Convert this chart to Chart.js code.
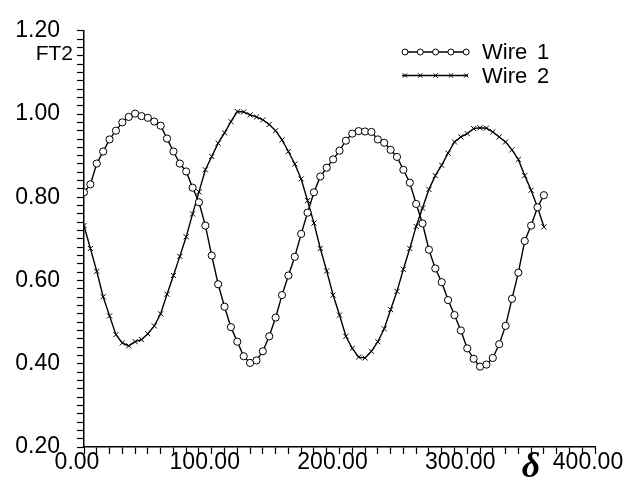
<!DOCTYPE html>
<html><head><meta charset="utf-8">
<script src="https://cdn.jsdelivr.net/npm/chart.js@4.4.1/dist/chart.umd.min.js"></script>
<style>html,body{margin:0;padding:0;background:#fff}#wrap{width:639px;height:485px}</style>
</head><body><div id="wrap"><canvas id="c"></canvas></div>
<script>
const angles = [0,5,10,15,20,25,30,35,40,45,50,55,60,65,70,75,80,85,90,95,100,105,110,115,120,125,130,135,140,145,150,155,160,165,170,175,180,185,190,195,200,205,210,215,220,225,230,235,240,245,250,255,260,265,270,275,280,285,290,295,300,305,310,315,320,325,330,335,340,345,350,355,360];
const wire1 = [0.812,0.831,0.881,0.910,0.939,0.960,0.980,0.993,1.001,0.995,0.991,0.982,0.972,0.941,0.910,0.881,0.862,0.823,0.788,0.732,0.660,0.591,0.537,0.488,0.453,0.418,0.402,0.408,0.430,0.466,0.511,0.565,0.612,0.657,0.712,0.763,0.812,0.850,0.871,0.891,0.912,0.936,0.953,0.959,0.958,0.957,0.939,0.931,0.914,0.897,0.866,0.835,0.784,0.737,0.674,0.629,0.596,0.553,0.517,0.480,0.437,0.412,0.393,0.398,0.414,0.447,0.491,0.556,0.619,0.695,0.732,0.776,0.805];
const wire2 = [0.732,0.677,0.622,0.561,0.515,0.470,0.450,0.443,0.453,0.458,0.472,0.491,0.520,0.567,0.612,0.658,0.705,0.760,0.813,0.866,0.898,0.930,0.955,0.982,1.006,1.005,0.998,0.993,0.986,0.975,0.960,0.938,0.910,0.880,0.844,0.792,0.738,0.677,0.623,0.565,0.517,0.466,0.437,0.416,0.414,0.430,0.453,0.484,0.530,0.574,0.627,0.677,0.730,0.774,0.819,0.852,0.877,0.906,0.933,0.945,0.953,0.965,0.967,0.966,0.957,0.945,0.933,0.914,0.891,0.852,0.817,0.776,0.729];
const seriesNames = ["Wire 1","Wire 2"];
const xTitle = "\u03B4";
const yTitle = "FT2";
const xLabelEvery = 100;
const yLabelEvery = 0.2;

const FONT = '"Liberation Sans", Arial, sans-serif';
const styles = [
  {pointStyle:'circle', radius:3.6, bg:'#fff'},
  {pointStyle:'crossRot', radius:3.6, bg:'#000'}
];

const annotate = {
  id:'annotate',
  afterDraw(chart){
    const ctx = chart.ctx;
    ctx.save();
    ctx.fillStyle = '#000';
    ctx.font = '21px ' + FONT;
    ctx.textAlign = 'right'; ctx.textBaseline = 'middle';
    ctx.fillText(yTitle, 73, 54);
    ctx.font = 'bold italic 36px "Liberation Serif", "DejaVu Serif", serif';
    ctx.textAlign = 'center'; ctx.textBaseline = 'alphabetic';
    ctx.fillText(xTitle, 531, 477);
    // legend
    chart.data.datasets.forEach((ds, i) => {
      const y = 52 + i * 23.5;
      ctx.strokeStyle = '#000'; ctx.lineWidth = 1.3;
      ctx.beginPath(); ctx.moveTo(402, y); ctx.lineTo(468, y); ctx.stroke();
      for (let m = 0; m < 5; m++) {
        const x = 405 + m * 15.3;
        ctx.fillStyle = styles[i].bg; ctx.strokeStyle = '#000'; ctx.lineWidth = 1;
        Chart.helpers.drawPoint(ctx, {pointStyle: styles[i].pointStyle, radius: 3, rotation: 0, borderWidth: 1}, x, y);
      }
      const parts = ds.label.split(' ');
      ctx.fillStyle = '#000';
      ctx.font = '22px ' + FONT;
      ctx.textAlign = 'left'; ctx.textBaseline = 'middle';
      ctx.fillText(parts[0], 482, y + 1);
      ctx.fillText(parts.slice(1).join(' '), 537, y + 1);
    });
    ctx.restore();
  }
};

new Chart(document.getElementById('c'), {
  type: 'line',
  data: {
    datasets: seriesNames.map((name, i) => ({
      label: name,
      data: angles.map((a, j) => ({x: a, y: (i === 0 ? wire1 : wire2)[j]})),
      borderColor: '#000',
      borderWidth: 1.4,
      pointStyle: styles[i].pointStyle,
      pointRadius: styles[i].radius,
      pointBackgroundColor: styles[i].bg,
      pointBorderColor: '#000',
      pointBorderWidth: 1,
      tension: 0,
      fill: false
    }))
  },
  options: {
    responsive: true,
    maintainAspectRatio: false,
    animation: false,
    events: [],
    layout: {padding: {top: 17, right: 44, bottom: 0, left: 0}},
    plugins: {legend: {display: false}, tooltip: {enabled: false}},
    scales: {
      x: {
        type: 'linear', min: 0, max: 400,
        afterFit(s){ s.height = 38; },
        border: {display: true, color: '#000', width: 1.5},
        grid: {drawOnChartArea: false, drawTicks: true, tickLength: 7, tickColor: '#000', tickWidth: 1.2},
        ticks: {
          stepSize: 10, autoSkip: false, maxRotation: 0, padding: -3, labelOffset: -7,
          color: '#000', font: {family: FONT, size: 23, lineHeight: 1},
          callback: v => (Math.round(v) % xLabelEvery === 0 ? v.toFixed(2) : '')
        }
      },
      y: {
        type: 'linear', min: 0.2, max: 1.2,
        afterFit(s){ s.width = 84; },
        border: {display: true, color: '#000', width: 1.5},
        grid: {drawOnChartArea: false, drawTicks: true, tickLength: 7, tickColor: '#000', tickWidth: 1.2},
        ticks: {
          stepSize: 0.02, autoSkip: false, padding: 17,
          color: '#000', font: {family: FONT, size: 23},
          callback: v => (Math.abs(Math.round(v / yLabelEvery) * yLabelEvery - v) < 1e-6 ? v.toFixed(2) : '')
        }
      }
    }
  },
  plugins: [annotate]
});
</script>
</body></html>
